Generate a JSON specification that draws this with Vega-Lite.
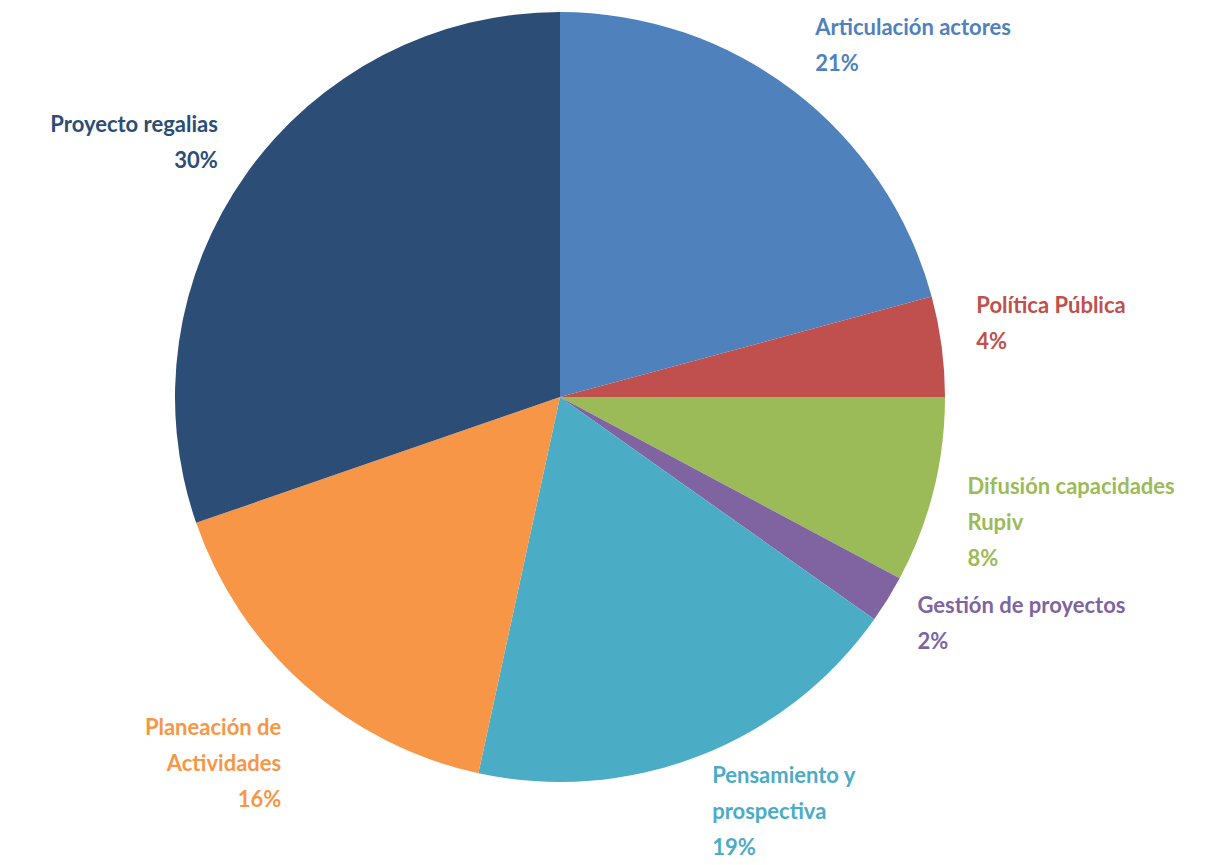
{
  "$schema": "https://vega.github.io/schema/vega-lite/v6.json",
  "width": 1120,
  "height": 794,
  "autosize": {"type": "none"},
  "padding": {"left": 0, "top": 0, "right": 102, "bottom": 71},
  "background": "white",
  "view": {"stroke": null},
  "data": {
    "values": [
      {"categoria": "Articulación actores", "valor": 20.8, "orden": 1, "etiqueta": "Articulación actores\n21%"},
      {"categoria": "Política Pública", "valor": 4.2, "orden": 2, "etiqueta": "Política Pública\n4%"},
      {"categoria": "Difusión capacidades Rupiv", "valor": 7.8, "orden": 3, "etiqueta": "Difusión capacidades\nRupiv\n8%"},
      {"categoria": "Gestión de proyectos", "valor": 2.0, "orden": 4, "etiqueta": "Gestión de proyectos\n2%"},
      {"categoria": "Pensamiento y prospectiva", "valor": 18.6, "orden": 5, "etiqueta": "Pensamiento y\nprospectiva\n19%"},
      {"categoria": "Planeación de Actividades", "valor": 16.3, "orden": 6, "etiqueta": "Planeación de\nActividades\n16%"},
      {"categoria": "Proyecto regalias", "valor": 30.3, "orden": 7, "etiqueta": "Proyecto regalias\n30%"}
    ]
  },
  "transform": [
    {"stack": "valor", "groupby": [], "sort": [{"field": "orden", "order": "ascending"}], "as": ["v0", "v1"]},
    {"calculate": "(datum.v0 + datum.v1) / 2", "as": "mid"}
  ],
  "encoding": {
    "color": {
      "field": "categoria",
      "type": "nominal",
      "legend": null,
      "scale": {
        "domain": ["Articulación actores", "Política Pública", "Difusión capacidades Rupiv", "Gestión de proyectos", "Pensamiento y prospectiva", "Planeación de Actividades", "Proyecto regalias"],
        "range": ["#4F81BD", "#C0504D", "#9BBB59", "#8064A2", "#4BACC6", "#F79646", "#2C4D75"]
      }
    }
  },
  "layer": [
    {
      "mark": {"type": "arc", "outerRadius": 385},
      "encoding": {
        "theta": {"field": "v0", "type": "quantitative", "stack": null, "scale": {"domain": [0, 100]}},
        "theta2": {"field": "v1"}
      }
    },
    {
      "transform": [{"filter": "datum.mid < 25"}],
      "mark": {"type": "text", "radius": 420, "dy": -36, "align": "left", "baseline": "middle", "font": "Lato", "fontWeight": "bold", "fontSize": 22, "lineBreak": "\n", "lineHeight": 36},
      "encoding": {
        "theta": {"field": "mid", "type": "quantitative", "stack": null, "scale": {"domain": [0, 100]}},
        "text": {"field": "etiqueta"}
      }
    },
    {
      "transform": [{"filter": "datum.mid >= 25 && datum.mid < 50"}],
      "mark": {"type": "text", "radius": 420, "dy": -12, "align": "left", "baseline": "middle", "font": "Lato", "fontWeight": "bold", "fontSize": 22, "lineBreak": "\n", "lineHeight": 36},
      "encoding": {
        "theta": {"field": "mid", "type": "quantitative", "stack": null, "scale": {"domain": [0, 100]}},
        "text": {"field": "etiqueta"}
      }
    },
    {
      "transform": [{"filter": "datum.mid >= 50 && datum.mid < 75"}],
      "mark": {"type": "text", "radius": 420, "dy": 17, "align": "right", "baseline": "middle", "font": "Lato", "fontWeight": "bold", "fontSize": 22, "lineBreak": "\n", "lineHeight": 36},
      "encoding": {
        "theta": {"field": "mid", "type": "quantitative", "stack": null, "scale": {"domain": [0, 100]}},
        "text": {"field": "etiqueta"}
      }
    },
    {
      "transform": [{"filter": "datum.mid >= 75"}],
      "mark": {"type": "text", "radius": 420, "dy": -28, "align": "right", "baseline": "middle", "font": "Lato", "fontWeight": "bold", "fontSize": 22, "lineBreak": "\n", "lineHeight": 36},
      "encoding": {
        "theta": {"field": "mid", "type": "quantitative", "stack": null, "scale": {"domain": [0, 100]}},
        "text": {"field": "etiqueta"}
      }
    }
  ]
}
